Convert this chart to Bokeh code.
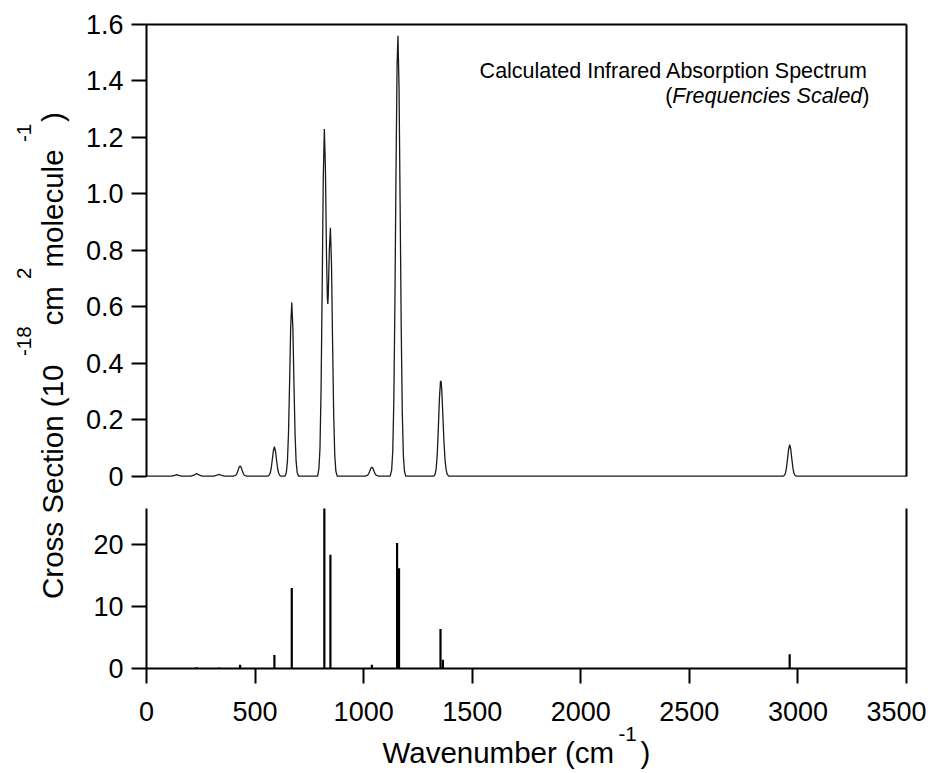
import math
from bokeh.plotting import figure
from bokeh.layouts import row, column
from bokeh.models import Range1d, LinearAxis, FixedTicker, Label
from bokeh.embed import file_html
from bokeh.resources import INLINE

# ---------------- data ----------------
# calculated spectrum trace (wavenumber, cross section / 1e-18 cm2 molecule-1)
spec_x = [0, 115, 130, 139, 148, 163, 205, 221, 231, 241, 257, 310, 324, 334, 344, 358,
          400, 411, 416, 421, 426, 431, 436, 441, 446, 451, 462,
          558, 564, 569, 574, 579, 584, 589, 594, 599, 604, 609, 614, 620,
          638, 644, 649, 654, 659, 664, 669, 674, 679, 684, 689, 694, 700,
          788, 794, 799, 804, 809, 814, 819, 824, 829, 833, 835, 837, 842, 847, 852, 857, 862, 867, 872, 878,
          1007, 1018, 1023, 1028, 1033, 1038, 1043, 1048, 1053, 1058, 1069,
          1122, 1129, 1134, 1139, 1144, 1149, 1154, 1158, 1163, 1168, 1173, 1178, 1183, 1188, 1194,
          1323, 1329, 1334, 1339, 1344, 1349, 1354, 1357, 1360, 1365, 1370, 1375, 1380, 1385, 1392,
          2931, 2937, 2942, 2947, 2952, 2957, 2962, 2967, 2972, 2977, 2982, 2987, 2993,
          3500]
spec_y = [0, 0, 0.0025, 0.005, 0.0025, 0, 0, 0.0045, 0.009, 0.0045, 0, 0, 0.003, 0.006, 0.003, 0,
          0, 0.003, 0.009, 0.019, 0.031, 0.036, 0.031, 0.019, 0.009, 0.003, 0,
          0, 0.002, 0.009, 0.026, 0.056, 0.089, 0.104, 0.089, 0.056, 0.026, 0.009, 0.002, 0,
          0, 0.013, 0.052, 0.153, 0.331, 0.527, 0.615, 0.527, 0.331, 0.153, 0.052, 0.013, 0,
          0, 0.026, 0.10, 0.31, 0.66, 1.05, 1.23, 1.09, 0.78, 0.63, 0.61, 0.64, 0.80, 0.88, 0.75, 0.47, 0.22, 0.074, 0.018, 0,
          0, 0.003, 0.008, 0.017, 0.027, 0.032, 0.027, 0.017, 0.008, 0.003, 0,
          0, 0.021, 0.087, 0.266, 0.612, 1.074, 1.456, 1.56, 1.378, 0.964, 0.529, 0.223, 0.072, 0.017, 0,
          0, 0.006, 0.026, 0.077, 0.169, 0.275, 0.337, 0.334, 0.301, 0.212, 0.12, 0.056, 0.022, 0.006, 0,
          0, 0.002, 0.009, 0.028, 0.060, 0.095, 0.111, 0.095, 0.060, 0.028, 0.009, 0.002, 0,
          0]

# stick spectrum (wavenumber, intensity)
stick_x = [139, 231, 334, 431, 589, 669, 819, 847, 1038, 1154, 1163, 1354, 1365, 2962]
stick_y = [0.1, 0.2, 0.15, 0.6, 2.2, 13.0, 26.0, 18.4, 0.6, 20.3, 16.2, 6.4, 1.4, 2.3]

top_ticks = [0, 0.2, 0.4, 0.6, 0.8, 1.0, 1.2, 1.4, 1.6]
top_tick_labels = ["0", "0.2", "0.4", "0.6", "0.8", "1.0", "1.2", "1.4", "1.6"]
bot_ticks = [0, 10, 20]
x_ticks = [0, 500, 1000, 1500, 2000, 2500, 3000, 3500]

title_1 = "Calculated Infrared Absorption Spectrum"
title_2 = ["(", "Frequencies Scaled", ")"]
xlabel_parts = ["Wavenumber (cm", "-1", ")"]
ylabel_parts = ["Cross Section (10", "-18", " cm", "2", " molecule", "-1", ")"]

# ---------------- styling ----------------
FONT = "Liberation Sans"
TICK_FS = "27px"
LAB_FS = "29.5px"
SUP_FS = "20.5px"
TITLE_FS = "21.5px"


def style_axis(ax, standoff=8):
    ax.axis_line_width = 2
    ax.axis_line_color = "black"
    ax.major_tick_line_width = 2
    ax.major_tick_line_color = "black"
    ax.major_tick_out = 15
    ax.major_tick_in = 0
    ax.minor_tick_line_color = None
    ax.major_label_text_font = FONT
    ax.major_label_text_font_size = TICK_FS
    ax.major_label_text_color = "black"
    ax.major_label_standoff = standoff


def border_axis(ax):
    ax.axis_line_width = 2
    ax.axis_line_color = "black"
    ax.major_tick_out = 0
    ax.major_tick_in = 0
    ax.major_tick_line_color = None
    ax.minor_tick_line_color = None
    ax.major_label_text_font_size = "0px"
    ax.major_label_text_color = None
    ax.major_label_standoff = 0


def base_fig(**kw):
    f = figure(output_backend="svg", toolbar_location=None,
               x_axis_location=None, y_axis_location=None, **kw)
    f.outline_line_color = None
    f.grid.grid_line_color = None
    f.background_fill_color = "white"
    f.border_fill_color = "white"
    return f


def lab(fig, x, y, text, size, align="left", style="normal", angle=0.0):
    fig.add_layout(Label(x=x, y=y, text=text, angle=angle, text_align=align, text_baseline="middle",
                         text_font=FONT, text_font_size=size, text_font_style=style,
                         text_color="black"))


def px_to_x(px):
    # image pixel -> wavenumber (frames span x 146..906)
    return (px - 146) / 760 * 3500


# ---------------- top panel: calculated spectrum (image y 0..493) ----------------
p1 = base_fig(width=848, height=493, x_range=Range1d(0, 3500), y_range=Range1d(-0.005, 1.6),
              min_border_left=68, min_border_right=20, min_border_top=24, min_border_bottom=16)
ay1 = LinearAxis(ticker=FixedTicker(ticks=top_ticks), bounds=(0, 1.6),
                 major_label_overrides={t: s for t, s in zip(top_ticks, top_tick_labels)})
style_axis(ay1)
p1.add_layout(ay1, "left")
top_border = LinearAxis(ticker=FixedTicker(ticks=[]))
border_axis(top_border)
p1.add_layout(top_border, "above")
right_border1 = LinearAxis(ticker=FixedTicker(ticks=[]), bounds=(0, 1.6))
border_axis(right_border1)
p1.add_layout(right_border1, "right")
p1.line(spec_x, spec_y, line_color="#1a1a1a", line_width=1.3)


def p1_y(py):
    # image pixel -> top panel value (frame y 24..477)
    return -0.005 + (477 - py) / 453 * 1.605


lab(p1, px_to_x(867.5), p1_y(70.2), title_1, TITLE_FS, align="right")
lab(p1, px_to_x(869.0), p1_y(95.0), title_2[2], TITLE_FS, align="right")
lab(p1, px_to_x(861.8), p1_y(95.0), title_2[1], TITLE_FS, align="right", style="italic")
lab(p1, px_to_x(671.8), p1_y(95.0), title_2[0], TITLE_FS, align="right")

# ---------------- bottom panel: stick spectrum (image y 493..685) ----------------
p2 = base_fig(width=848, height=192, x_range=Range1d(0, 3500), y_range=Range1d(0, 25.87),
              min_border_left=68, min_border_right=20, min_border_top=15, min_border_bottom=17)
ax2 = LinearAxis(ticker=FixedTicker(ticks=x_ticks))
style_axis(ax2, standoff=0)
ax2.major_label_text_font_size = "0px"
ax2.major_label_text_color = None
p2.add_layout(ax2, "below")
ay2 = LinearAxis(ticker=FixedTicker(ticks=bot_ticks))
style_axis(ay2)
p2.add_layout(ay2, "left")
right_border2 = LinearAxis(ticker=FixedTicker(ticks=[]))
border_axis(right_border2)
p2.add_layout(right_border2, "right")
p2.segment(x0=stick_x, y0=[0] * len(stick_x), x1=stick_x, y1=stick_y,
           line_color="black", line_width=2.2, line_cap="butt")

# ---------------- x tick labels + x-axis title (image y 685..770) ----------------
xlab = base_fig(width=848, height=85, x_range=Range1d(0, 3500), y_range=Range1d(0, 44),
                min_border_left=68, min_border_right=20, min_border_top=41, min_border_bottom=0)
axl = LinearAxis(ticker=FixedTicker(ticks=x_ticks))
style_axis(axl, standoff=6)
axl.axis_line_color = None
axl.major_tick_line_color = None
axl.major_tick_out = 0
xlab.add_layout(axl, "above")
# frame spans image y 726..770 -> data y = 770 - image y
lab(xlab, px_to_x(382), 770 - 752, xlabel_parts[0], LAB_FS)
lab(xlab, px_to_x(618), 770 - 733.6, xlabel_parts[1], SUP_FS)
lab(xlab, px_to_x(640), 770 - 752, xlabel_parts[2], LAB_FS)

# ---------------- y-axis title (rotated) ----------------
ylab = base_fig(width=78, height=770, x_range=Range1d(0, 78), y_range=Range1d(0, 770), min_border=0)
y_starts = [598.5, 355.5, 325.0, 278.5, 267.0, 141.5, 121.5]   # image y where each piece starts
y_is_sup = [False, True, False, True, False, True, False]
for txt, sy, sup in zip(ylabel_parts, y_starts, y_is_sup):
    lab(ylab, 23.7 if sup else 52.0, 770 - sy, txt, SUP_FS if sup else LAB_FS, angle=math.pi / 2)

layout = row(ylab, column(p1, p2, xlab))
open("out.html", "w").write(file_html(layout, INLINE))
